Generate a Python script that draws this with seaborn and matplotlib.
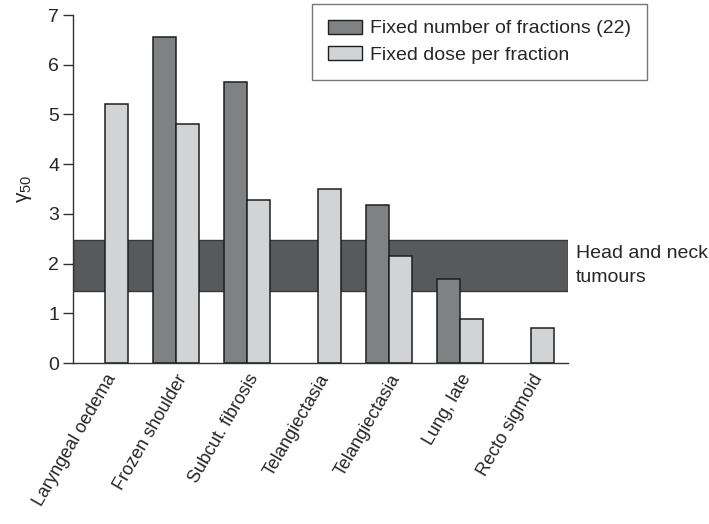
import numpy as np
import pandas as pd
import matplotlib
matplotlib.use("Agg")
import matplotlib.pyplot as plt
from matplotlib.patches import Patch
import seaborn as sns

categories = ["Laryngeal oedema", "Frozen shoulder", "Subcut. fibrosis",
              "Telangiectasia", "Telangiectasia ", "Lung, late", "Recto sigmoid"]
tick_labels = ["Laryngeal oedema", "Frozen shoulder", "Subcut. fibrosis",
               "Telangiectasia", "Telangiectasia", "Lung, late", "Recto sigmoid"]
fixed_fractions = [np.nan, 6.56, 5.65, np.nan, 3.18, 1.69, np.nan]
fixed_dose = [5.21, 4.81, 3.28, 3.50, 2.15, 0.89, 0.70]
series_names = ["Fixed number of fractions (22)", "Fixed dose per fraction"]
band_low, band_high = 1.45, 2.47
band_label = "Head and neck\ntumours"

sns.set_theme(style="white")
plt.rcParams["font.family"] = ["Liberation Sans", "DejaVu Sans"]
plt.rcParams["mathtext.fontset"] = "custom"
plt.rcParams["mathtext.rm"] = "Liberation Sans"
plt.rcParams["mathtext.it"] = "Liberation Sans"

FS = 14

df = pd.DataFrame({
    "condition": categories * 2,
    "series": [series_names[0]] * len(categories) + [series_names[1]] * len(categories),
    "value": fixed_fractions + fixed_dose,
})

dark, light, band_col, edge = "#808183", "#d2d3d5", "#58595b", "#1e1e1e"

fig = plt.figure(figsize=(7.09, 5.24), dpi=100)
ax = fig.add_axes([73 / 709, 1 - 363 / 524, (568 - 73) / 709, (363 - 15) / 524])

ax.axhspan(band_low, band_high, color=band_col, ec="#3a3a3a", lw=1, zorder=0)

sns.barplot(data=df, x="condition", y="value", hue="series", order=categories,
            hue_order=series_names, palette=[dark, light], saturation=1,
            width=0.64, edgecolor=edge, linewidth=1.1, ax=ax, legend=False,
            zorder=2)

ax.set_xlim(-0.45, 6.52)
ax.set_ylim(0, 7)
ax.set_yticks(range(8))
ax.set_xticks(range(len(categories)))
ax.set_xticklabels(tick_labels, rotation=60, ha="right", rotation_mode="anchor",
                   fontsize=13)
ax.tick_params(axis="y", labelsize=FS, length=7, width=1, color="#333333",
               direction="out", left=True, pad=3)
ax.tick_params(axis="x", length=0, pad=6)
ax.set_xlabel("")
ax.set_ylabel("γ$_{50}$", fontsize=FS + 1, labelpad=10)
for side in ["top", "right"]:
    ax.spines[side].set_visible(False)
for side in ["left", "bottom"]:
    ax.spines[side].set_color("#333333")
    ax.spines[side].set_linewidth(1)

ax.text(1.016, (band_low + band_high) / 2, band_label, transform=ax.get_yaxis_transform(),
        ha="left", va="center", fontsize=FS, linespacing=1.5)

handles = [Patch(facecolor=dark, edgecolor=edge, lw=1),
           Patch(facecolor=light, edgecolor=edge, lw=1)]
leg = ax.legend(handles, series_names, loc="upper left",
                bbox_to_anchor=(312 / 709, 1 - 4 / 524), bbox_transform=fig.transFigure,
                fontsize=FS, frameon=True, fancybox=False, edgecolor="#555555",
                handlelength=1.75, handleheight=0.75, handletextpad=0.45,
                borderpad=0.8, labelspacing=0.45, borderaxespad=0)
leg.get_frame().set_linewidth(1)

fig.savefig("out.png", dpi=100)
